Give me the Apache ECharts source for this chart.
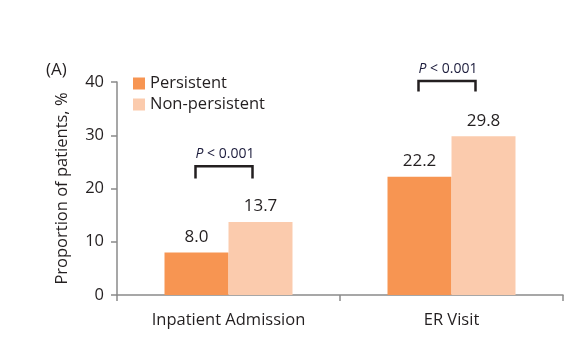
<!DOCTYPE html>
<html>
<head>
<meta charset="utf-8">
<script src="https://cdn.jsdelivr.net/npm/echarts@6/dist/echarts.min.js"></script>
<style>
  html, body { margin: 0; padding: 0; background: #fff; }
  #chart { width: 580px; height: 352px; }
</style>
</head>
<body>
<div id="chart"></div>
<script>
// values
var categories = ['Inpatient Admission', 'ER Visit'];
var persistent = [8.0, 22.2];
var nonPersistent = [13.7, 29.8];
var yTicks = [0, 10, 20, 30, 40];
// significance brackets: [category index, bracket top value, leg bottom value]
var brackets = [[0, 24.2, 21.9], [1, 40.2, 38.2]];
var pLabels = ['P < 0.001', 'P < 0.001'];

var FONT = '"Open Sans", "Noto Sans", sans-serif';
var TXT = '#231f20';

var chart = echarts.init(document.getElementById('chart'));

chart.setOption({
  animation: false,
  textStyle: { fontFamily: FONT },
  grid: { left: 117, right: 17, top: 82, bottom: 57, containLabel: false },
  legend: {
    orient: 'vertical',
    left: 128,
    top: 70,
    itemWidth: 12,
    itemHeight: 12,
    itemGap: 4,
    icon: 'rect',
    data: ['Persistent', 'Non-persistent'],
    textStyle: { fontSize: 16.5, color: TXT, fontFamily: FONT }
  },
  graphic: [{
    type: 'text',
    left: 46,
    top: 62,
    style: { text: '(A)', fontSize: 17, fill: TXT, fontFamily: FONT }
  }],
  xAxis: {
    type: 'category',
    data: categories,
    axisLine: { lineStyle: { color: '#8a8a8a', width: 1.5 } },
    axisTick: { show: true, length: 6, alignWithLabel: false, lineStyle: { color: '#8a8a8a', width: 1.5 } },
    axisLabel: { fontSize: 16.5, color: TXT, margin: 17, fontFamily: FONT }
  },
  yAxis: {
    type: 'value',
    min: yTicks[0],
    max: yTicks[yTicks.length - 1],
    interval: 10,
    name: 'Proportion of patients, %',
    nameLocation: 'middle',
    nameGap: 46,
    nameTextStyle: { fontSize: 16.5, color: TXT, fontFamily: FONT },
    axisLine: { show: true, lineStyle: { color: '#8a8a8a', width: 1.5 } },
    axisTick: { show: true, length: 6, lineStyle: { color: '#8a8a8a', width: 1.5 } },
    axisLabel: { fontSize: 16.5, color: TXT, margin: 13, fontFamily: FONT },
    splitLine: { show: false }
  },
  series: [
    {
      name: 'Persistent',
      type: 'bar',
      data: persistent,
      barWidth: 64,
      barGap: '0%',
      itemStyle: { color: '#f79552' },
      label: {
        show: true, position: 'top', distance: 7,
        fontSize: 17, color: TXT, fontFamily: FONT,
        formatter: function (p) { return p.value.toFixed(1); }
      }
    },
    {
      name: 'Non-persistent',
      type: 'bar',
      data: nonPersistent,
      barWidth: 64,
      barGap: '0%',
      itemStyle: { color: '#fbcbad' },
      label: {
        show: true, position: 'top', distance: 7,
        fontSize: 17, color: TXT, fontFamily: FONT,
        formatter: function (p) { return p.value.toFixed(1); }
      }
    },
    {
      type: 'custom',
      clip: false,
      silent: true,
      data: brackets,
      renderItem: function (params, api) {
        var c = api.coord([api.value(0), api.value(1)]);
        var bottom = api.coord([api.value(0), api.value(2)])[1];
        var x1 = c[0] - 33;
        var x2 = c[0] + 24;
        var top = c[1];
        var parts = pLabels[params.dataIndex].split(' ');
        return {
          type: 'group',
          children: [
            {
              type: 'polyline',
              shape: { points: [[x1, bottom], [x1, top], [x2, top], [x2, bottom]] },
              style: { stroke: '#231f20', lineWidth: 2.5, fill: null }
            },
            {
              type: 'text',
              x: (x1 + x2) / 2 + 1,
              y: top - 5,
              style: {
                text: '{i|' + parts[0] + '}{n| ' + parts.slice(1).join(' ') + '}',
                align: 'center',
                verticalAlign: 'bottom',
                rich: {
                  i: { fontStyle: 'italic', fontSize: 14, fill: '#1c1c3c', fontFamily: FONT },
                  n: { fontSize: 14, fill: '#1c1c3c', fontFamily: FONT }
                }
              }
            }
          ]
        };
      }
    }
  ]
});
</script>
</body>
</html>
